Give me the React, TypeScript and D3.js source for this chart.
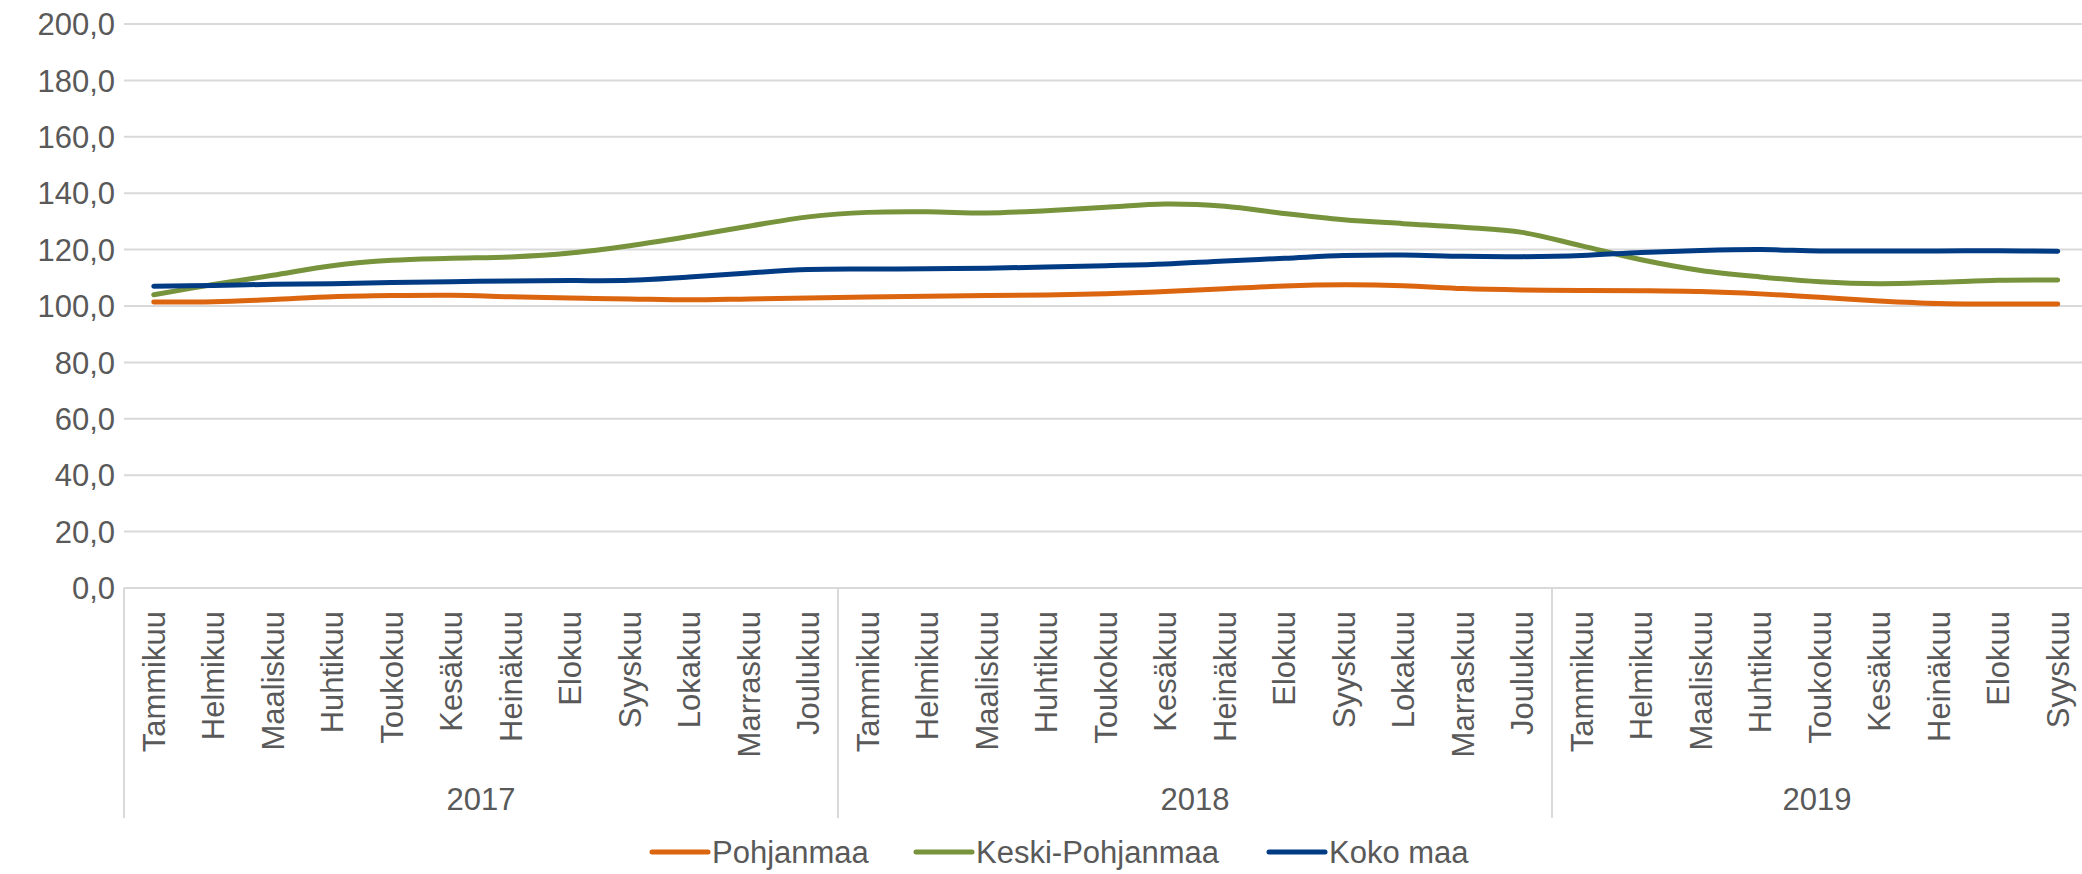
import React from 'react';
import * as d3 from 'd3';

const MONTHS = [
  'Tammikuu', 'Helmikuu', 'Maaliskuu', 'Huhtikuu', 'Toukokuu', 'Kesäkuu',
  'Heinäkuu', 'Elokuu', 'Syyskuu', 'Lokakuu', 'Marraskuu', 'Joulukuu',
];
const YEARS = ['2017', '2018', '2019'];
const MONTH_COUNTS = [12, 12, 9];

const POHJANMAA = [
  101.4, 101.5, 102.3, 103.3, 103.7, 103.8, 103.3, 102.8, 102.5, 102.2, 102.5, 102.8,
  103.2, 103.5, 103.7, 103.9, 104.3, 105.1, 106.1, 107.1, 107.5, 107.2, 106.2, 105.7,
  105.5, 105.4, 105.1, 104.3, 103.1, 101.8, 100.9, 100.7, 100.7,
];
const KESKI_POHJANMAA = [
  104.0, 107.6, 110.9, 114.3, 116.2, 116.9, 117.4, 118.8, 121.4, 124.7, 128.3, 131.6,
  133.2, 133.4, 133.0, 133.8, 135.0, 136.2, 135.4, 132.8, 130.6, 129.2, 127.9, 126.1,
  121.3, 116.4, 112.6, 110.3, 108.6, 107.9, 108.4, 109.1, 109.2,
];
const KOKO_MAA = [
  107.0, 107.3, 107.7, 107.9, 108.3, 108.6, 108.9, 109.0, 109.1, 110.3, 111.7, 112.9,
  113.1, 113.2, 113.4, 113.8, 114.3, 114.9, 116.0, 116.9, 117.9, 118.1, 117.6, 117.5,
  117.9, 119.0, 119.7, 120.0, 119.5, 119.5, 119.5, 119.6, 119.4,
];

const SERIES = [
  { name: 'Pohjanmaa', values: POHJANMAA, color: '#DC6510' },
  { name: 'Keski-Pohjanmaa', values: KESKI_POHJANMAA, color: '#77933C' },
  { name: 'Koko maa', values: KOKO_MAA, color: '#003B84' },
];

const Y_MAX = 200;

const W = 2082;
const H = 874;
const FONT = '"Liberation Sans", Arial, sans-serif';
const TEXT = '#595959';
const GRID = '#D9D9D9';

const fiLocale = d3.formatLocale({ decimal: ',', thousands: '\u00a0', grouping: [3], currency: ['', ' €'] });
const fmt = fiLocale.format('.1f');

export default function App() {
  // one category per month, grouped by year
  const cats = YEARS.flatMap((y, i) =>
    MONTHS.slice(0, MONTH_COUNTS[i]).map(m => ({ key: `${y}-${m}`, year: y, month: m }))
  );

  const left = 124;
  const band = 59.5;
  const top = 24;
  const bottom = 588;

  const x = d3.scaleBand()
    .domain(cats.map(c => c.key))
    .range([left, left + band * cats.length]);

  const y = d3.scaleLinear().domain([0, Y_MAX]).range([bottom, top]);

  const cx = (i: number) => x(cats[i].key)! + x.bandwidth() / 2;

  const line = d3.line<number>()
    .x((_, i) => cx(i))
    .y(d => y(d))
    .curve(d3.curveCatmullRom.alpha(0.5));

  // year group boundaries
  let acc = 0;
  const groups = YEARS.map((yr, i) => {
    const start = acc;
    acc += MONTH_COUNTS[i];
    return { year: yr, x0: x(cats[start].key)!, x1: x(cats[acc - 1].key)! + x.bandwidth() };
  });

  const legendX = [652, 916, 1269];

  return (
    <svg width={W} height={H} style={{ position: 'absolute', left: 0, top: 0, background: '#fff' }}
      fontFamily={FONT}>
      {/* gridlines + y labels */}
      {y.ticks(10).map(t => (
        <g key={t}>
          <line x1={left} x2={W} y1={y(t)} y2={y(t)} stroke={GRID} strokeWidth={2} />
          <text x={left - 9} y={y(t)} dy="0.36em" textAnchor="end" fontSize={31} fill={TEXT}>
            {fmt(t)}
          </text>
        </g>
      ))}

      {/* category axis separators */}
      {groups.map(g => (
        <line key={g.year} x1={g.x0} x2={g.x0} y1={bottom} y2={818} stroke={GRID} strokeWidth={2} />
      ))}

      {/* month labels */}
      {cats.map((c, i) => (
        <text key={c.key} transform={`translate(${cx(i)},611) rotate(-90)`} dy="0.36em"
          textAnchor="end" fontSize={31} fill={TEXT}>
          {c.month}
        </text>
      ))}

      {/* year labels */}
      {groups.map(g => (
        <text key={g.year} x={(g.x0 + Math.min(g.x1, W)) / 2 + (g.x1 > W ? 0 : 0)} y={810}
          textAnchor="middle" fontSize={31} fill={TEXT}>
          {g.year}
        </text>
      ))}

      {/* lines */}
      {SERIES.map(s => (
        <path key={s.name} d={line(s.values) ?? ''} fill="none" stroke={s.color}
          strokeWidth={5} strokeLinecap="round" strokeLinejoin="round" />
      ))}

      {/* legend */}
      {SERIES.map((s, i) => (
        <g key={s.name} transform={`translate(${legendX[i]},852)`}>
          <line x1={0} x2={56} y1={0} y2={0} stroke={s.color} strokeWidth={5} strokeLinecap="round" />
          <text x={60} y={0} dy="0.36em" fontSize={31} fill={TEXT}>{s.name}</text>
        </g>
      ))}
    </svg>
  );
}
